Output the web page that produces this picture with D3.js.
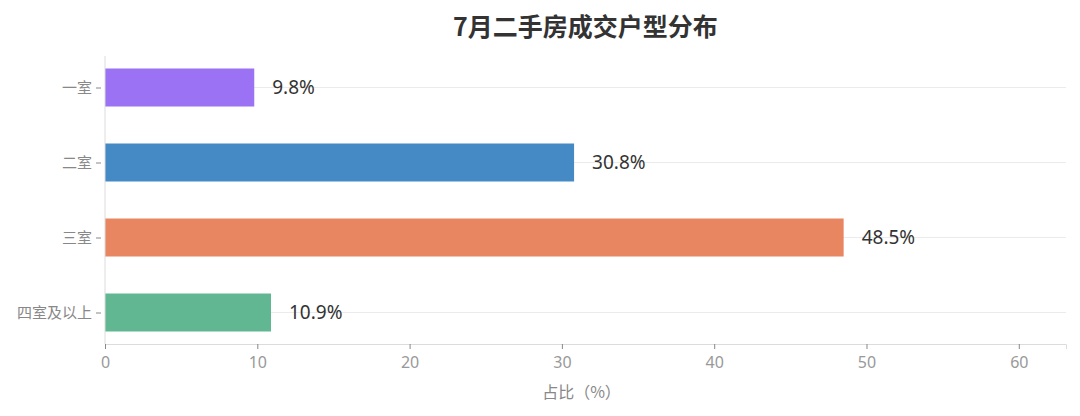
<!DOCTYPE html>
<html><head><meta charset="utf-8">
<script src="https://cdn.jsdelivr.net/npm/d3@7"></script>
<style>body{margin:0;background:#fff;}svg{display:block;font-family:"Noto Sans CJK SC","Noto Sans",sans-serif;}</style>
</head><body>
<svg id="c" width="1080" height="416"></svg>
<script>
const categories = ["一室","二室","三室","四室及以上"];
const values = [9.8, 30.8, 48.5, 10.9];
const colors = ["#9A72F3","#4589C5","#E88662","#62B793"];
const xTicks = [0,10,20,30,40,50,60];
const title = "7月二手房成交户型分布";
const xLabel = "占比（%）";

const svg = d3.select("#c");
const L = 105, R = 1066, T = 56, B = 344;
const x = d3.scaleLinear().domain([0, 63.1]).range([L, R]);
const y = d3.scalePoint().domain(categories).range([T, B]).padding(0.42);
const barH = 38;
const FF = "Noto Sans CJK SC, Noto Sans, sans-serif";

// grid
svg.append("g").selectAll("line").data(categories).join("line")
  .attr("x1", L).attr("x2", R).attr("y1", d=>y(d)).attr("y2", d=>y(d))
  .attr("stroke", "#ebebeb").attr("stroke-width", 1);

// bars
svg.append("g").selectAll("rect").data(values).join("rect")
  .attr("x", x(0)).attr("y", (d,i)=>y(categories[i]) - barH/2)
  .attr("width", d=>x(d)-x(0)).attr("height", barH)
  .attr("fill", (d,i)=>colors[i]);

// value labels
svg.append("g").selectAll("text").data(values).join("text")
  .attr("x", d=>x(d)+18).attr("y", (d,i)=>y(categories[i]))
  .attr("dy", "0.35em").attr("font-size", 19).attr("fill", "#333")
  .attr("font-family", "Noto Sans, sans-serif")
  .text(d=>d.toFixed(1)+"%");

// x axis
const xa = svg.append("g").attr("transform", `translate(0,${B})`)
  .call(d3.axisBottom(x).tickValues(xTicks).tickSize(5).tickPadding(8));
xa.select(".domain").attr("stroke", "#dcdcdc");
xa.selectAll(".tick line").attr("stroke", "#888");
xa.selectAll(".tick text").attr("fill", "#999").attr("font-size", 16).attr("font-family", "Noto Sans, sans-serif");

// y axis
const ya = svg.append("g").attr("transform", `translate(${L},0)`)
  .call(d3.axisLeft(y).tickSize(5).tickPadding(8));
ya.select(".domain").attr("stroke", "#dcdcdc").attr("d", `M0,${T}V${B}`);
ya.selectAll(".tick line").attr("stroke", "#888").attr("x1", -9).attr("x2", -4);
ya.selectAll(".tick text").attr("fill", "#888").attr("font-size", 15).attr("x", -13).attr("font-family", FF);

// title
svg.append("text").attr("x", (L+R)/2).attr("y", 27).attr("dy","0.35em")
  .attr("text-anchor","middle").attr("font-size", 25).attr("font-weight","bold").attr("fill","#333")
  .text(title);

// x label
svg.append("text").attr("x", (L+R)/2 - 4).attr("y", 392).attr("dy","0.35em")
  .attr("text-anchor","middle").attr("font-size", 16).attr("fill","#888")
  .text(xLabel);
</script>
</body></html>
